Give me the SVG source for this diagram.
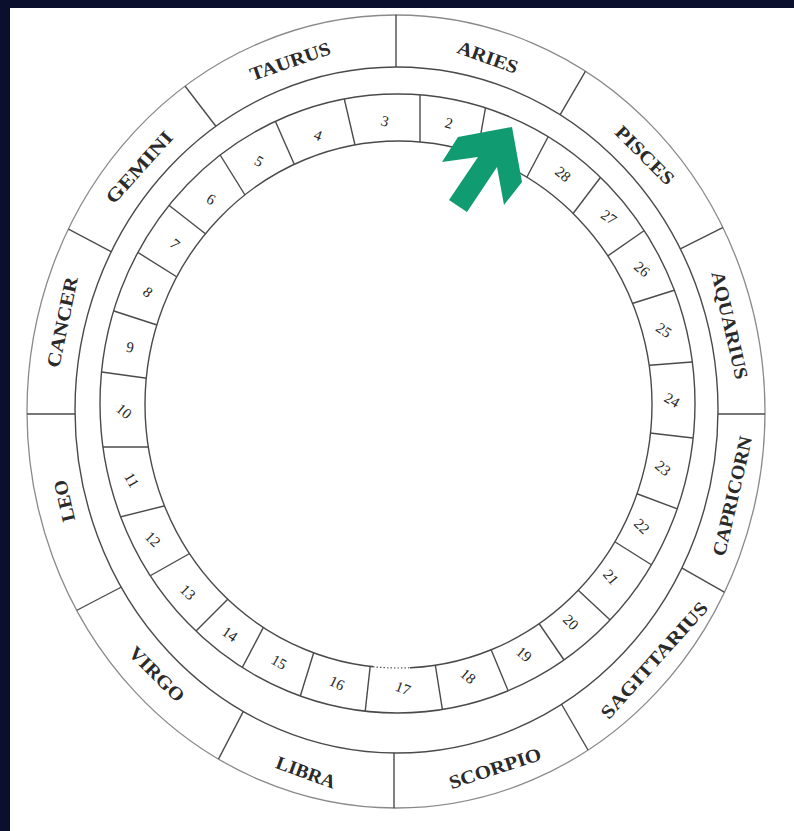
<svg xmlns="http://www.w3.org/2000/svg" width="794" height="831" viewBox="0 0 794 831">
<defs>
<style>
.ring{fill:none;stroke:#4a4a4a;stroke-width:1.4}
.outer{fill:none;stroke:#8a8a8a;stroke-width:1.3}
.div{stroke:#4a4a4a;stroke-width:1.4}
.sign{font-family:"Liberation Serif","Times New Roman",serif;font-size:19px;font-weight:bold;fill:#2a2a2a;text-anchor:middle}
.num{font-family:"Liberation Serif","Times New Roman",serif;font-size:15px;fill:#262626;text-anchor:middle}
</style>
<clipPath id="lunarClip">
<path clip-rule="evenodd" d="M100,403.5 a297.5,309.5 0 1,0 595,0 a297.5,309.5 0 1,0 -595,0 Z M145,404.5 a253.5,263.5 0 1,0 507,0 a253.5,263.5 0 1,0 -507,0 Z"/>
</clipPath>
<clipPath id="zodiacClip">
<path clip-rule="evenodd" d="M27,411.5 a369,396.5 0 1,0 738,0 a369,396.5 0 1,0 -738,0 Z M75,410 a321.5,343 0 1,0 643,0 a321.5,343 0 1,0 -643,0 Z"/>
</clipPath>
</defs>

<rect x="0" y="0" width="794" height="831" fill="#0a0f2e"/>
<rect x="10" y="8" width="784" height="823" fill="#ffffff"/>

<g id="rings">
<ellipse class="outer" cx="396" cy="411.5" rx="369" ry="396.5"/>
<ellipse class="ring" cx="396.5" cy="410" rx="321.5" ry="343"/>
<ellipse class="ring" cx="397.5" cy="403.5" rx="297.5" ry="309.5"/>
<ellipse class="ring" cx="398.5" cy="404.5" rx="253.5" ry="263.5"/>
<path d="M373,666.7 A253.5,263.5 0 0,0 410,667.7" fill="none" stroke="#fff" stroke-width="3"/>
<path d="M373,666.7 A253.5,263.5 0 0,0 410,667.7" fill="none" stroke="#555" stroke-width="1.2" stroke-dasharray="1.5 2"/>
</g>

<g id="connectors">
<g id="zodiac-dividers" clip-path="url(#zodiacClip)">
<line class="div" x1="396" y1="5" x2="396" y2="78"/>
<line class="div" x1="180" y1="79.5" x2="223" y2="135.5"/>
<line class="div" x1="55" y1="222" x2="125" y2="259"/>
<line class="div" x1="15" y1="414" x2="88" y2="414"/>
<line class="div" x1="64" y1="617" x2="133" y2="581"/>
<line class="div" x1="210.5" y1="774.4" x2="250.5" y2="697.6"/>
<line class="div" x1="394" y1="820" x2="394" y2="740"/>
<line class="div" x1="595.8" y1="763.5" x2="554.2" y2="691.5"/>
<line class="div" x1="736.6" y1="599.2" x2="669.4" y2="560.8"/>
<line class="div" x1="706" y1="414" x2="777" y2="414"/>
<line class="div" x1="734.6" y1="221.7" x2="667.4" y2="255.3"/>
<line class="div" x1="592.5" y1="59.1" x2="552.5" y2="127.9"/>
</g>
<g id="lunar-dividers" clip-path="url(#lunarClip)">
<line class="div" x1="553" y1="127.5" x2="523" y2="184.5"/>
<line class="div" x1="488.25" y1="92.5" x2="474.75" y2="167.5"/>
<line class="div" x1="420" y1="84" x2="420" y2="154"/>
<line class="div" x1="342.5" y1="91.25" x2="357.5" y2="155.75"/>
<line class="div" x1="272.5" y1="114.75" x2="299.5" y2="176.25"/>
<line class="div" x1="216.25" y1="148.75" x2="250.75" y2="204.25"/>
<line class="div" x1="167" y1="203.75" x2="215" y2="241.25"/>
<line class="div" x1="133.25" y1="249.5" x2="185.75" y2="282.5"/>
<line class="div" x1="107" y1="308.75" x2="167" y2="328.25"/>
<line class="div" x1="91.25" y1="370.5" x2="155.75" y2="379.5"/>
<line class="div" x1="90" y1="447" x2="158" y2="447"/>
<line class="div" x1="110" y1="519.5" x2="170" y2="504.5"/>
<line class="div" x1="138.25" y1="582.5" x2="196.75" y2="549.5"/>
<line class="div" x1="188.25" y1="638.75" x2="228.75" y2="598.25"/>
<line class="div" x1="237" y1="677.5" x2="267" y2="620.5"/>
<line class="div" x1="296.75" y1="707.5" x2="316.25" y2="644.5"/>
<line class="div" x1="363.75" y1="724.25" x2="371.25" y2="656.75"/>
<line class="div" x1="443.75" y1="718" x2="433.25" y2="652"/>
<line class="div" x1="511.25" y1="698.25" x2="485.75" y2="636.75"/>
<line class="div" x1="568" y1="665.75" x2="532" y2="613.25"/>
<line class="div" x1="615.5" y1="625" x2="570.5" y2="583"/>
<line class="div" x1="655.75" y1="567.5" x2="603.25" y2="534.5"/>
<line class="div" x1="685" y1="511.75" x2="625" y2="489.25"/>
<line class="div" x1="703.75" y1="439.25" x2="639.25" y2="431.75"/>
<line class="div" x1="701.75" y1="361.25" x2="643.25" y2="365.75"/>
<line class="div" x1="684.5" y1="287" x2="627.5" y2="305"/>
<line class="div" x1="653.25" y1="224.25" x2="603.75" y2="258.75"/>
<line class="div" x1="605.5" y1="170.75" x2="572.5" y2="214.25"/>
</g>
</g>

<g id="signs">
<g id="aries"><text class="sign" transform="translate(488,57) rotate(20)" dy="0.35em" textLength="63" lengthAdjust="spacingAndGlyphs">ARIES</text></g>
<g id="taurus"><text class="sign" transform="translate(290,61) rotate(-19)" dy="0.35em" textLength="84" lengthAdjust="spacingAndGlyphs">TAURUS</text></g>
<g id="gemini"><text class="sign" transform="translate(139,167) rotate(-48)" dy="0.35em" textLength="90" lengthAdjust="spacingAndGlyphs">GEMINI</text></g>
<g id="cancer"><text class="sign" transform="translate(62,322) rotate(-78)" dy="0.35em" textLength="92" lengthAdjust="spacingAndGlyphs">CANCER</text></g>
<g id="leo"><text class="sign" transform="translate(64,501) rotate(-103)" dy="0.35em" textLength="42" lengthAdjust="spacingAndGlyphs">LEO</text></g>
<g id="virgo"><text class="sign" transform="translate(157,674) rotate(45)" dy="0.35em" textLength="70" lengthAdjust="spacingAndGlyphs">VIRGO</text></g>
<g id="libra"><text class="sign" transform="translate(306,772) rotate(20)" dy="0.35em" textLength="62" lengthAdjust="spacingAndGlyphs">LIBRA</text></g>
<g id="scorpio"><text class="sign" transform="translate(495,768) rotate(-18)" dy="0.35em" textLength="96" lengthAdjust="spacingAndGlyphs">SCORPIO</text></g>
<g id="sagittarius"><text class="sign" transform="translate(654,660) rotate(-48)" dy="0.35em" textLength="150" lengthAdjust="spacingAndGlyphs">SAGITTARIUS</text></g>
<g id="capricorn"><text class="sign" transform="translate(732,496) rotate(-77)" dy="0.35em" textLength="122" lengthAdjust="spacingAndGlyphs">CAPRICORN</text></g>
<g id="aquarius"><text class="sign" transform="translate(730,325) rotate(77)" dy="0.35em" textLength="110" lengthAdjust="spacingAndGlyphs">AQUARIUS</text></g>
<g id="pisces"><text class="sign" transform="translate(645,155) rotate(45)" dy="0.35em" textLength="75" lengthAdjust="spacingAndGlyphs">PISCES</text></g>
</g>

<g id="mansions">
<g id="m1"><text class="num" transform="translate(512,143) rotate(15)" dy="0.35em">1</text></g>
<g id="m2"><text class="num" transform="translate(449,123) rotate(15)" dy="0.35em">2</text></g>
<g id="m3"><text class="num" transform="translate(385,121) rotate(15)" dy="0.35em">3</text></g>
<g id="m4"><text class="num" transform="translate(318,135) rotate(20)" dy="0.35em">4</text></g>
<g id="m5"><text class="num" transform="translate(259,161) rotate(30)" dy="0.35em">5</text></g>
<g id="m6"><text class="num" transform="translate(211,199) rotate(30)" dy="0.35em">6</text></g>
<g id="m7"><text class="num" transform="translate(175,244) rotate(40)" dy="0.35em">7</text></g>
<g id="m8"><text class="num" transform="translate(148,292) rotate(40)" dy="0.35em">8</text></g>
<g id="m9"><text class="num" transform="translate(130,347) rotate(10)" dy="0.35em">9</text></g>
<g id="m10"><text class="num" transform="translate(124,411) rotate(40)" dy="0.35em">10</text></g>
<g id="m11"><text class="num" transform="translate(132,480) rotate(60)" dy="0.35em">11</text></g>
<g id="m12"><text class="num" transform="translate(153,539) rotate(45)" dy="0.35em">12</text></g>
<g id="m13"><text class="num" transform="translate(188,592) rotate(45)" dy="0.35em">13</text></g>
<g id="m14"><text class="num" transform="translate(230,634) rotate(35)" dy="0.35em">14</text></g>
<g id="m15"><text class="num" transform="translate(279,662) rotate(30)" dy="0.35em">15</text></g>
<g id="m16"><text class="num" transform="translate(337,683) rotate(25)" dy="0.35em">16</text></g>
<g id="m17"><text class="num" transform="translate(403,688) rotate(20)" dy="0.35em">17</text></g>
<g id="m18"><text class="num" transform="translate(468,676) rotate(40)" dy="0.35em">18</text></g>
<g id="m19"><text class="num" transform="translate(524,654) rotate(40)" dy="0.35em">19</text></g>
<g id="m20"><text class="num" transform="translate(571,622) rotate(45)" dy="0.35em">20</text></g>
<g id="m21"><text class="num" transform="translate(611,577) rotate(50)" dy="0.35em">21</text></g>
<g id="m22"><text class="num" transform="translate(642,526) rotate(45)" dy="0.35em">22</text></g>
<g id="m23"><text class="num" transform="translate(663,468) rotate(40)" dy="0.35em">23</text></g>
<g id="m24"><text class="num" transform="translate(672,400) rotate(30)" dy="0.35em">24</text></g>
<g id="m25"><text class="num" transform="translate(664,330) rotate(35)" dy="0.35em">25</text></g>
<g id="m26"><text class="num" transform="translate(642,269) rotate(40)" dy="0.35em">26</text></g>
<g id="m27"><text class="num" transform="translate(609,217) rotate(35)" dy="0.35em">27</text></g>
<g id="m28"><text class="num" transform="translate(563,174) rotate(40)" dy="0.35em">28</text></g>
</g>

<g id="arrow">
<polygon points="512,127 522,182 504,205 497,167 467,212 449,200 478,157 442,162 458,137" fill="#119b70"/>
</g>
</svg>
